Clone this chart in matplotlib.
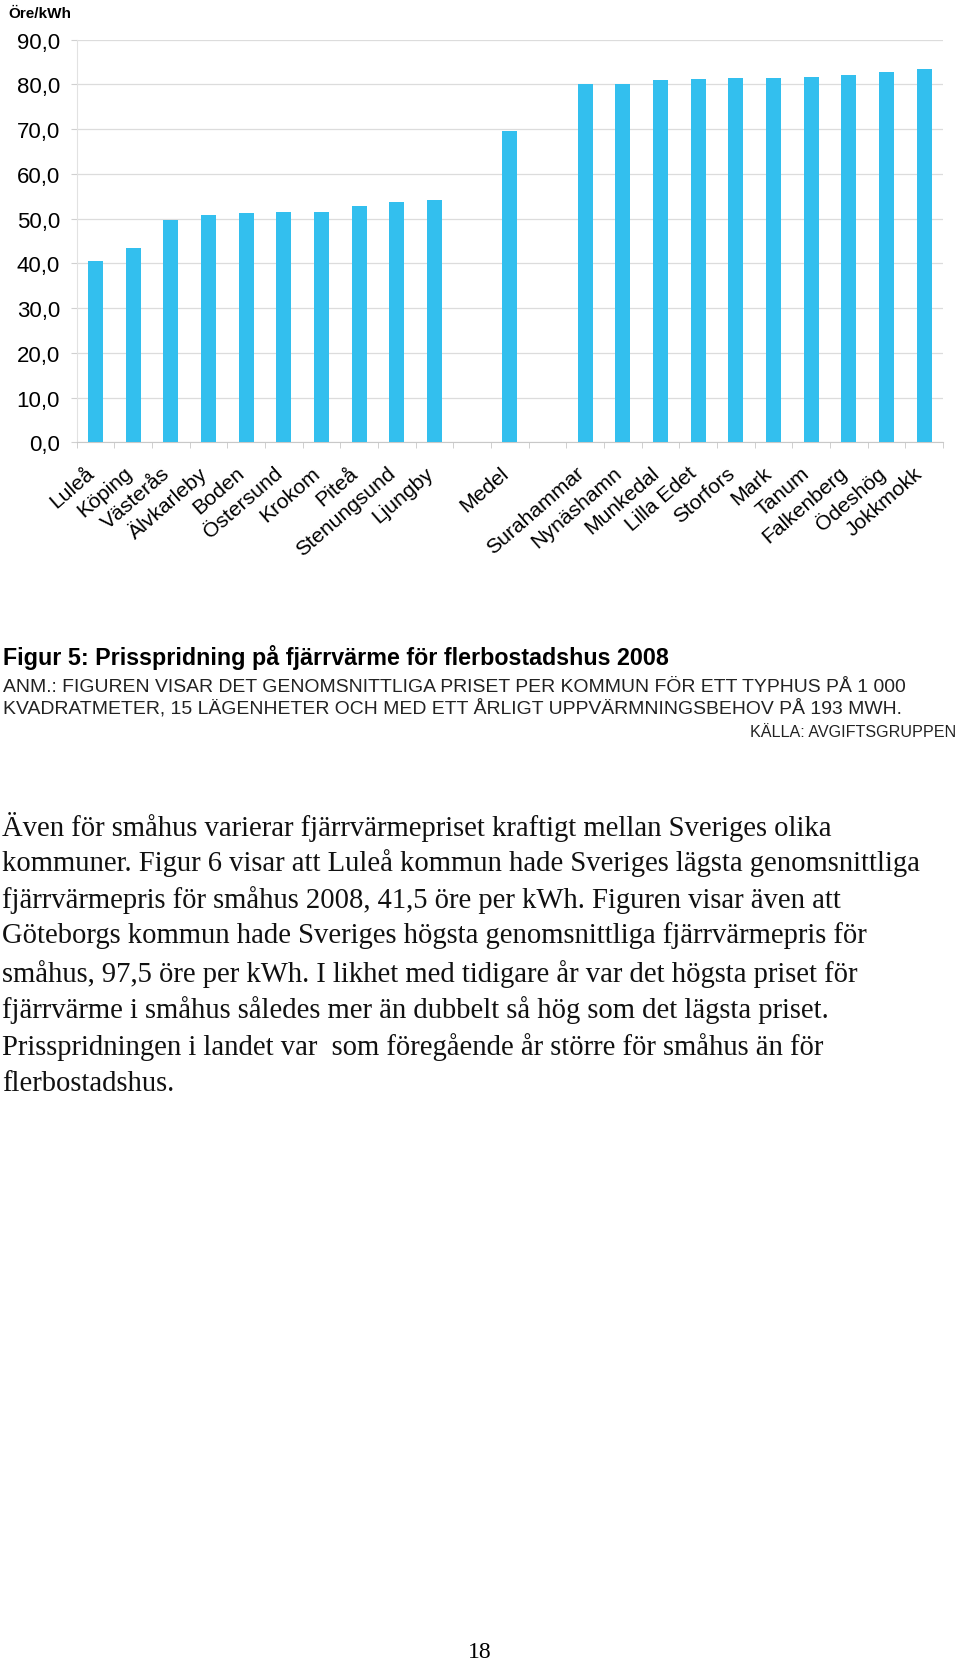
import numpy as np
import matplotlib
matplotlib.use('Agg')
import matplotlib.pyplot as plt
from matplotlib.transforms import ScaledTranslation

# data (öre/kWh)
kommuner_lag = ['Luleå', 'Köping', 'Västerås', 'Älvkarleby', 'Boden', 'Östersund',
                'Krokom', 'Piteå', 'Stenungsund', 'Ljungby']
pris_lag = [40.5, 43.5, 49.7, 50.8, 51.3, 51.5, 51.5, 52.8, 53.7, 54.1]
medel_namn = 'Medel'
medel_pris = 69.7
kommuner_hog = ['Surahammar', 'Nynäshamn', 'Munkedal', 'Lilla Edet', 'Storfors', 'Mark',
                'Tanum', 'Falkenberg', 'Ödeshög', 'Jokkmokk']
pris_hog = [80.1, 80.1, 80.9, 81.3, 81.4, 81.4, 81.6, 82.0, 82.7, 83.5]
yticks = [0, 10, 20, 30, 40, 50, 60, 70, 80, 90]

etiketter = kommuner_lag + [''] + [medel_namn] + [''] + kommuner_hog
varden = pris_lag + [np.nan] + [medel_pris] + [np.nan] + pris_hog
x = np.arange(len(etiketter))

W, H = 960, 1665
fig = plt.figure(figsize=(W / 100, H / 100), dpi=100)

def fx(px):
    return px / W

def fy(py):
    return 1 - py / H

ax = fig.add_axes([fx(76.7), fy(443.3), (943 - 76.7) / W, (443.3 - 40.7) / H])
ax.bar(x, np.nan_to_num(varden), width=0.4, color='#33BFEE', zorder=3)
ax.set_xlim(-0.5, len(etiketter) - 0.5)
ax.set_ylim(0, 90)
ax.set_yticks(yticks, [f'{v:.1f}'.replace('.', ',') for v in yticks])
ax.yaxis.grid(True, color='#dcdcdc', lw=0.9, zorder=0)
for s in ['top', 'right']:
    ax.spines[s].set_visible(False)
ax.spines['left'].set_color('#e2e2e2')
ax.spines['bottom'].set_color('#c8c8c8')
ax.tick_params(axis='y', length=4, color='#d0d0d0', pad=8, labelsize=16,
               labelfontfamily='Liberation Sans')
ax.set_xticks(np.arange(-0.5, len(etiketter), 1), minor=True)
ax.tick_params(axis='x', which='minor', length=4, color='#c8c8c8')
ax.set_xticks(x, etiketter, rotation=41, ha='right', va='center', rotation_mode='anchor')
ax.tick_params(axis='x', which='major', length=0, pad=20, labelsize=15.2,
               labelfontfamily='Liberation Sans')
skift = ScaledTranslation(-4 / 100, 0, fig.dpi_scale_trans)
for lbl in ax.get_xticklabels():
    lbl.set_transform(lbl.get_transform() + skift)

fig.text(fx(8), fy(14), 'Öre/kWh', fontsize=11, fontweight='bold',
         family='Liberation Sans', va='center')

r = fig.canvas.get_renderer()

def fit(t, w):
    cur = t.get_window_extent(r).width
    t.set_fontsize(t.get_fontsize() * w / cur)

titel = fig.text(fx(3), fy(658), 'Figur 5: Prisspridning på fjärrvärme för flerbostadshus 2008',
                 fontsize=14, fontweight='bold', family='Liberation Sans', va='center')
fit(titel, 665)

anm1 = fig.text(fx(3), fy(688), 'ANM.: FIGUREN VISAR DET GENOMSNITTLIGA PRISET PER KOMMUN FÖR ETT TYPHUS PÅ 1 000',
                fontsize=9, family='Liberation Sans', va='center', color='#222222')
anm2 = fig.text(fx(3), fy(708), 'KVADRATMETER, 15 LÄGENHETER OCH MED ETT ÅRLIGT UPPVÄRMNINGSBEHOV PÅ 193 MWH.',
                fontsize=9, family='Liberation Sans', va='center', color='#222222')
fit(anm1, 902)
anm2.set_fontsize(anm1.get_fontsize())
kalla = fig.text(fx(956), fy(733), 'KÄLLA: AVGIFTSGRUPPEN', fontsize=anm1.get_fontsize(),
                 family='Liberation Sans', va='center', ha='right', color='#222222')
fit(kalla, 205)

brodtext = [
    'Även för småhus varierar fjärrvärmepriset kraftigt mellan Sveriges olika',
    'kommuner. Figur 6 visar att Luleå kommun hade Sveriges lägsta genomsnittliga',
    'fjärrvärmepris för småhus 2008, 41,5 öre per kWh. Figuren visar även att',
    'Göteborgs kommun hade Sveriges högsta genomsnittliga fjärrvärmepris för',
    'småhus, 97,5 öre per kWh. I likhet med tidigare år var det högsta priset för',
    'fjärrvärme i småhus således mer än dubbelt så hög som det lägsta priset.',
    'Prisspridningen i landet var  som föregående år större för småhus än för',
    'flerbostadshus.',
]
rad_y = [824, 860, 897, 933, 971, 1007, 1044, 1081]
rader = [fig.text(fx(2), fy(y), s, fontsize=16, family='Liberation Serif',
                  va='center_baseline', color='#111111') for s, y in zip(brodtext, rad_y)]
fit(rader[1], 918)
for t in rader:
    t.set_fontsize(rader[1].get_fontsize())

fig.text(fx(480), fy(1653), '18', fontsize=17, family='Liberation Serif',
         ha='center', va='center')

fig.savefig('out.png', dpi=100)
